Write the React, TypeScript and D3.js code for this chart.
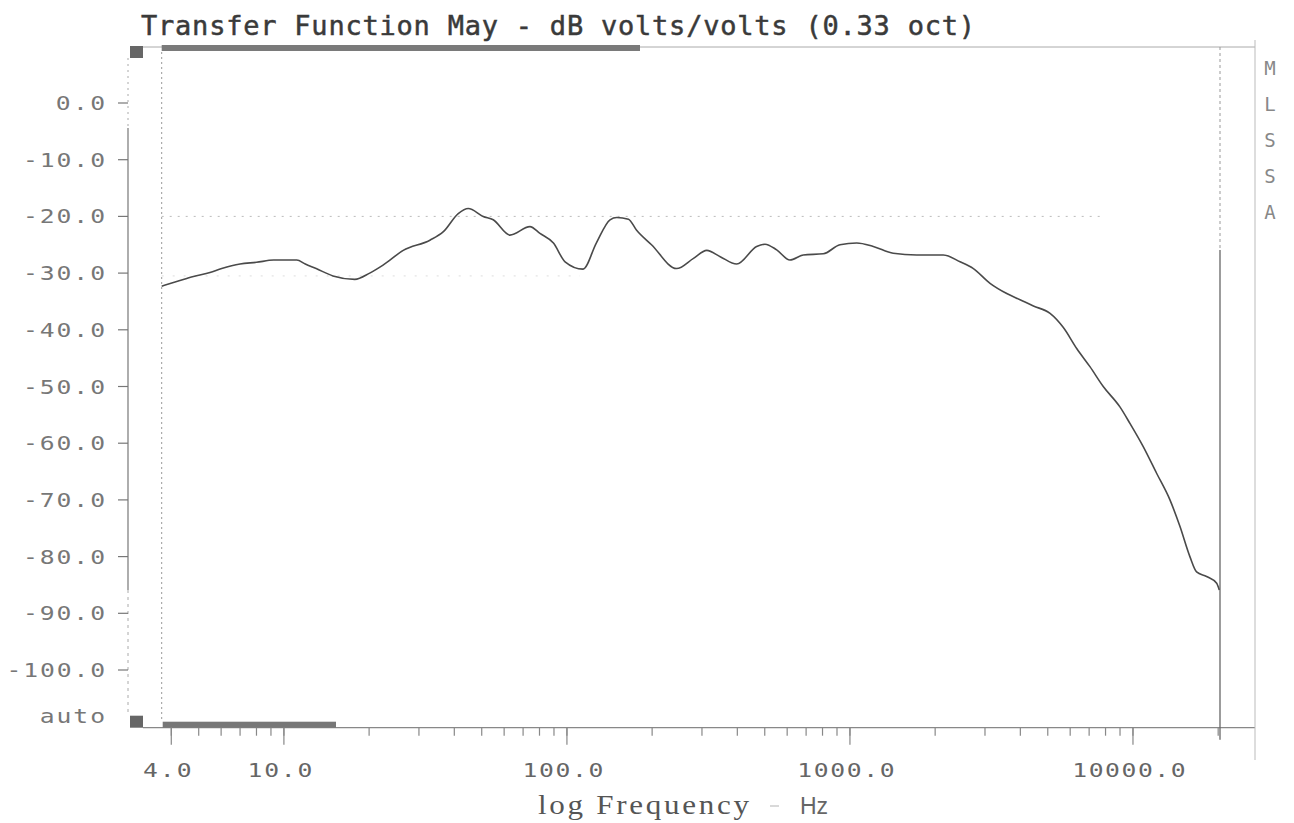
import React from 'react';
import * as d3 from 'd3';

// Frequency response
const freqHz = [3.7, 4.18, 4.79, 5.48, 6.03, 7.0, 8.0, 9.2, 11.1, 11.9, 13.0, 14.9, 17.8, 20.1, 22.4, 26.4, 32.8, 36.6, 41.3, 44.8, 50.6, 54.9, 62.9, 74.0, 80.3, 89.6, 98.5, 114, 127, 142, 150, 165, 176, 199, 244, 280, 312, 348, 398, 468, 501, 551, 614, 684, 805, 922, 1057, 1209, 1422, 1720, 2137, 2449, 2730, 3126, 3581, 3992, 4447, 5094, 5676, 6326, 7046, 7852, 8992, 9755, 10870, 12120, 13510, 14660, 15890, 16780, 18200, 19760, 20180];
const levelDb = [-32.3, -31.5, -30.6, -29.9, -29.2, -28.4, -28.1, -27.7, -27.7, -28.4, -29.2, -30.5, -31.1, -30.0, -28.6, -26.0, -24.2, -22.7, -19.5, -18.6, -20.0, -20.6, -23.3, -21.8, -23.0, -24.7, -28.0, -29.3, -24.7, -20.6, -20.2, -20.5, -22.4, -25.0, -29.2, -27.4, -26.0, -27.1, -28.4, -25.3, -24.9, -25.9, -27.7, -26.8, -26.6, -25.0, -24.7, -25.3, -26.5, -26.8, -26.8, -28.0, -29.2, -31.8, -33.6, -34.7, -35.8, -37.1, -39.6, -43.3, -46.5, -50.0, -53.6, -56.5, -60.6, -65.3, -70.0, -74.7, -80.0, -82.7, -83.5, -84.7, -85.9];

const yTickValues = [0, -10, -20, -30, -40, -50, -60, -70, -80, -90, -100];
const yTickLabels = ['0.0', '-10.0', '-20.0', '-30.0', '-40.0', '-50.0', '-60.0', '-70.0', '-80.0', '-90.0', '-100.0'];
const autoLabel = 'auto';
const xLabelValues = [4, 10, 100, 1000, 10000];
const xLabelTexts = ['4.0', '10.0', '100.0', '1000.0', '10000.0'];
const sideLetters = ['M', 'L', 'S', 'S', 'A'];
const titleText = 'Transfer Function May - dB volts/volts (0.33 oct)';
const xTitleMain = 'log Frequency';
const xTitleUnit = 'Hz';

const MONO = "'DejaVu Sans Mono', 'Liberation Mono', monospace";
const WIDE = 1.3; // horizontal stretch for the wide bitmap-style glyphs

function WideText(props: {
  x: number;
  y: number;
  text: string;
  anchor: 'start' | 'middle' | 'end';
  perChar: number;
  size: number;
  fill: string;
  family?: string;
}) {
  const { x, y, text, anchor, perChar, size, fill, family } = props;
  return (
    <text
      transform={`translate(${x},${y}) scale(${WIDE},1)`}
      textAnchor={anchor}
      fontFamily={family || MONO}
      fontSize={size}
      fill={fill}
      textLength={(text.length * perChar) / WIDE}
      lengthAdjust="spacing"
    >
      {text}
    </text>
  );
}

export default function App() {
  const x = d3.scaleLog().domain([3.7, 20300]).range([161.7, 1220]);
  const y = d3.scaleLinear().domain([10, -110]).range([46.3, 726.7]);

  const pts: [number, number][] = freqHz.map((f, i) => [f, levelDb[i]]);
  const line = d3
    .line<[number, number]>()
    .x((d) => x(d[0]))
    .y((d) => y(d[1]))
    .curve(d3.curveMonotoneX);

  const minorTicks = x.ticks().filter((t) => t >= 4 && t <= 20000);
  const axisY = y(-110) + 1;
  const leftAxisX = 128;
  const plotLeft = x(3.7);
  const plotRight = x(20300);

  return (
    <svg
      width={1294}
      height={823}
      style={{ position: 'absolute', left: 0, top: 0, background: '#fff' }}
    >
      <rect x={0} y={0} width={1294} height={823} fill="#ffffff" />

      {/* title */}
      <text
        x={141}
        y={35}
        fontFamily={MONO}
        fontSize={27}
        fill="#3a3a3a"
        stroke="#3a3a3a"
        strokeWidth={0.5}
        textLength={834}
        lengthAdjust="spacing"
      >
        {titleText}
      </text>

      {/* top frame */}
      <line x1={143} x2={1255} y1={47} y2={47} stroke="#aaa" strokeWidth={1} />
      <rect x={plotLeft} y={45} width={640 - plotLeft} height={6} fill="#7a7a7a" />
      <rect x={130} y={46} width={13} height={12} fill="#666" />

      {/* bottom frame */}
      <line x1={143} x2={1255} y1={axisY} y2={axisY} stroke="#888" strokeWidth={1.2} />
      <rect x={plotLeft + 1} y={axisY - 6} width={335 - plotLeft} height={6} fill="#777" />
      <rect x={130} y={axisY - 12} width={13} height={12} fill="#666" />

      {/* left axis */}
      <line x1={leftAxisX} x2={leftAxisX} y1={58} y2={128} stroke="#aaa" strokeDasharray="2,4" />
      <line x1={leftAxisX} x2={leftAxisX} y1={128} y2={590} stroke="#777" strokeWidth={1.2} />
      <line x1={leftAxisX} x2={leftAxisX} y1={590} y2={axisY - 12} stroke="#aaa" strokeDasharray="3,4" />
      {yTickValues.map((v, i) => (
        <g key={'yt' + i}>
          <line x1={leftAxisX - 10} x2={leftAxisX} y1={y(v)} y2={y(v)} stroke="#777" strokeWidth={1.2} />
          <WideText x={105} y={y(v) + 7} text={yTickLabels[i]} anchor="end" perChar={16.4} size={19} fill="#777" />
        </g>
      ))}
      <WideText x={105} y={y(-108.2) + 7} text={autoLabel} anchor="end" perChar={16.3} size={19} fill="#777" />

      {/* plot left dotted boundary */}
      <line x1={plotLeft} x2={plotLeft} y1={52} y2={axisY - 7} stroke="#999" strokeDasharray="2,3" />

      {/* dotted reference lines */}
      <line x1={plotLeft} x2={1105} y1={y(-20)} y2={y(-20)} stroke="#bbb" strokeDasharray="2,6" />
      <line x1={plotLeft} x2={580} y1={y(-30.5)} y2={y(-30.5)} stroke="#ddd" strokeDasharray="2,9" />

      {/* right boundary lines */}
      <line x1={plotRight} x2={plotRight} y1={47} y2={250} stroke="#999" strokeDasharray="3,3" />
      <line x1={plotRight} x2={plotRight} y1={250} y2={axisY + 12} stroke="#666" strokeWidth={1.3} />
      <line x1={1255} x2={1255} y1={40} y2={760} stroke="#bbb" strokeWidth={1} />

      {/* bottom ticks */}
      {minorTicks.map((t, i) => (
        <line key={'xt' + i} x1={x(t)} x2={x(t)} y1={axisY} y2={axisY + 8} stroke="#888" strokeWidth={1.2} />
      ))}
      {xLabelValues.map((v, i) => (
        <g key={'xl' + i}>
          <line x1={x(v)} x2={x(v)} y1={axisY} y2={axisY + 17} stroke="#888" strokeWidth={1.2} />
          <WideText x={x(v) - 4} y={777} text={xLabelTexts[i]} anchor="middle" perChar={16.2} size={19} fill="#666" />
        </g>
      ))}

      {/* x axis title */}
      <text
        transform="translate(538,814) scale(1.15,1)"
        fontFamily="'Liberation Serif', 'DejaVu Serif', serif"
        fontSize={27}
        fill="#555"
        textLength={211 / 1.15}
        lengthAdjust="spacing"
      >
        {xTitleMain}
      </text>
      <line x1={770} x2={779} y1={806} y2={806} stroke="#ccc" strokeWidth={1.5} />
      <text
        x={800}
        y={814}
        fontFamily="'Liberation Sans', 'DejaVu Sans', sans-serif"
        fontSize={23}
        fill="#666"
      >
        {xTitleUnit}
      </text>

      {/* side letters */}
      {sideLetters.map((s, i) => (
        <text
          key={'sl' + i}
          x={1270}
          y={75 + i * 36}
          textAnchor="middle"
          fontFamily={MONO}
          fontSize={19}
          fill="#888"
        >
          {s}
        </text>
      ))}

      {/* response curve */}
      <path d={line(pts) || ''} fill="none" stroke="#4a4a4a" strokeWidth={1.6} />
    </svg>
  );
}
